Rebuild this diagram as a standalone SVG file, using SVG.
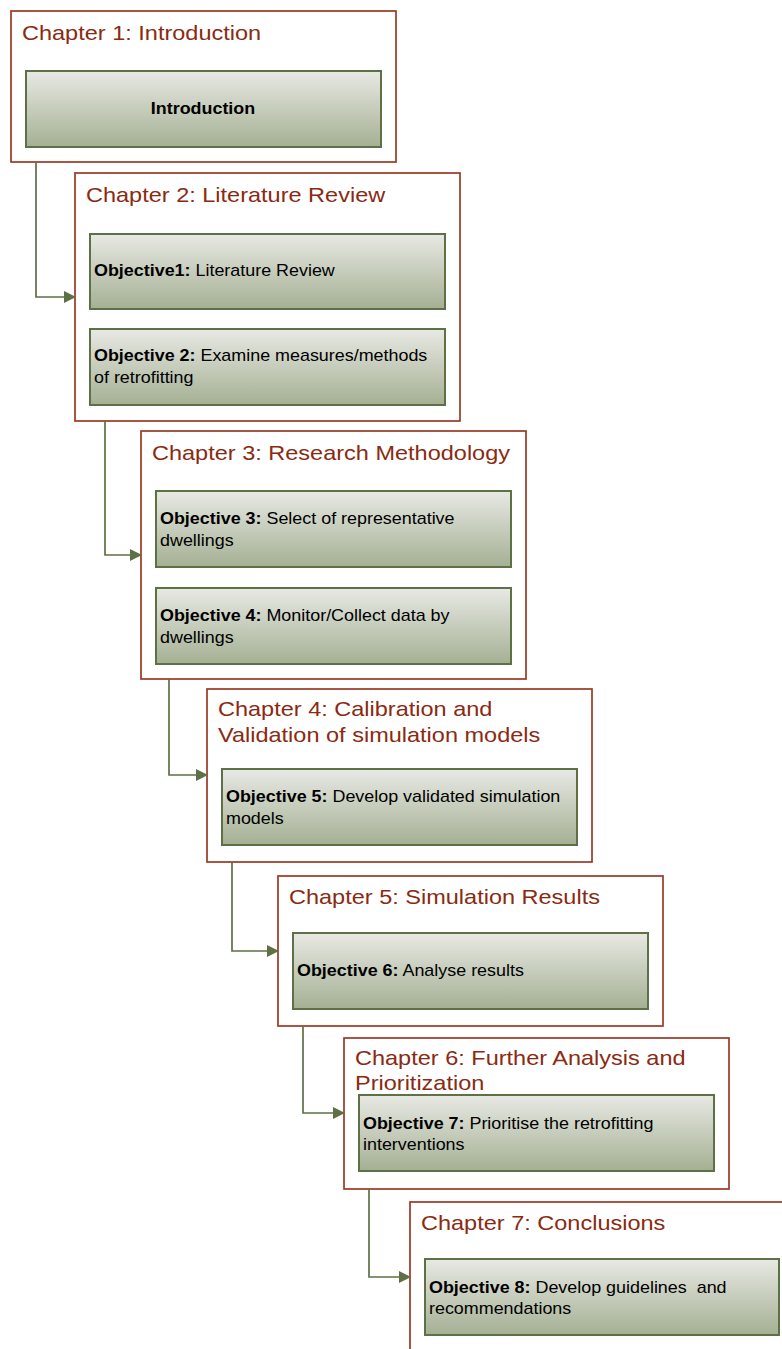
<svg xmlns="http://www.w3.org/2000/svg" width="782" height="1349" viewBox="0 0 782 1349">
<defs>
<linearGradient id="g" x1="0" y1="0" x2="0" y2="1">
<stop offset="0" stop-color="#E8E9E4"/>
<stop offset="1" stop-color="#A4B093"/>
</linearGradient>
<marker id="arr" markerWidth="12" markerHeight="12" refX="11" refY="6" orient="auto" markerUnits="userSpaceOnUse">
<path d="M0,0 L12,6 L0,12 z" fill="#5E7045"/>
</marker>
<style>
.ch{fill:#fff;stroke:#9A3A24;stroke-width:1.7}
.ob{fill:url(#g);stroke:#5E7045;stroke-width:2}
.tt{font-family:"Liberation Sans",Arial,sans-serif;font-size:21px;fill:#8B2A12}
.tx{font-family:"Liberation Sans",Arial,sans-serif;font-size:16px;fill:#000}
.b{font-weight:bold}
.cn{fill:none;stroke:#5E7045;stroke-width:1.7;marker-end:url(#arr)}
</style>
</defs>
<rect width="782" height="1349" fill="#fff"/>
<g id="ch1">
<rect class="ch" x="11" y="11" width="385" height="151"/>
<text class="tt" transform="translate(22,40) scale(1.12,1)">Chapter 1: Introduction</text>
</g>
<g id="intro">
<rect class="ob" x="26" y="71" width="355" height="76"/>
<text class="tx b" transform="translate(203,114) scale(1.12,1)" text-anchor="middle">Introduction</text>
</g>
<g id="ch2">
<rect class="ch" x="75" y="173" width="385" height="248"/>
<text class="tt" transform="translate(86,202) scale(1.12,1)">Chapter 2: Literature Review</text>
</g>
<g id="obj1">
<rect class="ob" x="90" y="234" width="355" height="75"/>
<text class="tx" transform="translate(94,276) scale(1.12,1)"><tspan class="b">Objective1:</tspan> Literature Review</text>
</g>
<g id="obj2">
<rect class="ob" x="90" y="329" width="355" height="76"/>
<text class="tx" transform="translate(94,361) scale(1.12,1)"><tspan class="b">Objective 2:</tspan> Examine measures/methods</text>
<text class="tx" transform="translate(94,383) scale(1.12,1)">of retrofitting</text>
</g>
<g id="ch3">
<rect class="ch" x="141" y="431" width="385" height="248"/>
<text class="tt" transform="translate(152,460) scale(1.12,1)">Chapter 3: Research Methodology</text>
</g>
<g id="obj3">
<rect class="ob" x="156" y="491" width="355" height="76"/>
<text class="tx" transform="translate(160,524) scale(1.12,1)"><tspan class="b">Objective 3:</tspan> Select of representative</text>
<text class="tx" transform="translate(160,546) scale(1.12,1)">dwellings</text>
</g>
<g id="obj4">
<rect class="ob" x="156" y="588" width="355" height="76"/>
<text class="tx" transform="translate(160,621) scale(1.12,1)"><tspan class="b">Objective 4:</tspan> Monitor/Collect data by</text>
<text class="tx" transform="translate(160,643) scale(1.12,1)">dwellings</text>
</g>
<g id="ch4">
<rect class="ch" x="207" y="689" width="385" height="173"/>
<text class="tt" transform="translate(218,716) scale(1.12,1)">Chapter 4: Calibration and</text>
<text class="tt" transform="translate(218,742) scale(1.12,1)">Validation of simulation models</text>
</g>
<g id="obj5">
<rect class="ob" x="222" y="769" width="355" height="76"/>
<text class="tx" transform="translate(226,802) scale(1.12,1)"><tspan class="b">Objective 5:</tspan> Develop validated simulation</text>
<text class="tx" transform="translate(226,824) scale(1.12,1)">models</text>
</g>
<g id="ch5">
<rect class="ch" x="278" y="876" width="385" height="150"/>
<text class="tt" transform="translate(289,904) scale(1.12,1)">Chapter 5: Simulation Results</text>
</g>
<g id="obj6">
<rect class="ob" x="293" y="933" width="355" height="76"/>
<text class="tx" transform="translate(297,976) scale(1.12,1)"><tspan class="b">Objective 6:</tspan> Analyse results</text>
</g>
<g id="ch6">
<rect class="ch" x="344" y="1038" width="385" height="151"/>
<text class="tt" transform="translate(355,1065) scale(1.12,1)">Chapter 6: Further Analysis and</text>
<text class="tt" transform="translate(355,1090) scale(1.12,1)">Prioritization</text>
</g>
<g id="obj7">
<rect class="ob" x="359" y="1095" width="355" height="76"/>
<text class="tx" transform="translate(363,1129) scale(1.12,1)"><tspan class="b">Objective 7:</tspan> Prioritise the retrofitting</text>
<text class="tx" transform="translate(363,1150) scale(1.12,1)">interventions</text>
</g>
<g id="ch7">
<rect class="ch" x="410" y="1202" width="385" height="160"/>
<text class="tt" transform="translate(421,1230) scale(1.12,1)">Chapter 7: Conclusions</text>
</g>
<g id="obj8">
<rect class="ob" x="425" y="1259" width="354" height="76"/>
<text class="tx" transform="translate(429,1293) scale(1.12,1)" xml:space="preserve"><tspan class="b">Objective 8:</tspan> Develop guidelines  and</text>
<text class="tx" transform="translate(429,1314) scale(1.12,1)">recommendations</text>
</g>
<g id="connectors">
<path class="cn" d="M36,162 V297 H75"/>
<path class="cn" d="M105,421 V555 H141"/>
<path class="cn" d="M169,679 V775 H207"/>
<path class="cn" d="M232,862 V951 H278"/>
<path class="cn" d="M303,1026 V1113 H344"/>
<path class="cn" d="M369,1189 V1277 H410"/>
</g>
</svg>
